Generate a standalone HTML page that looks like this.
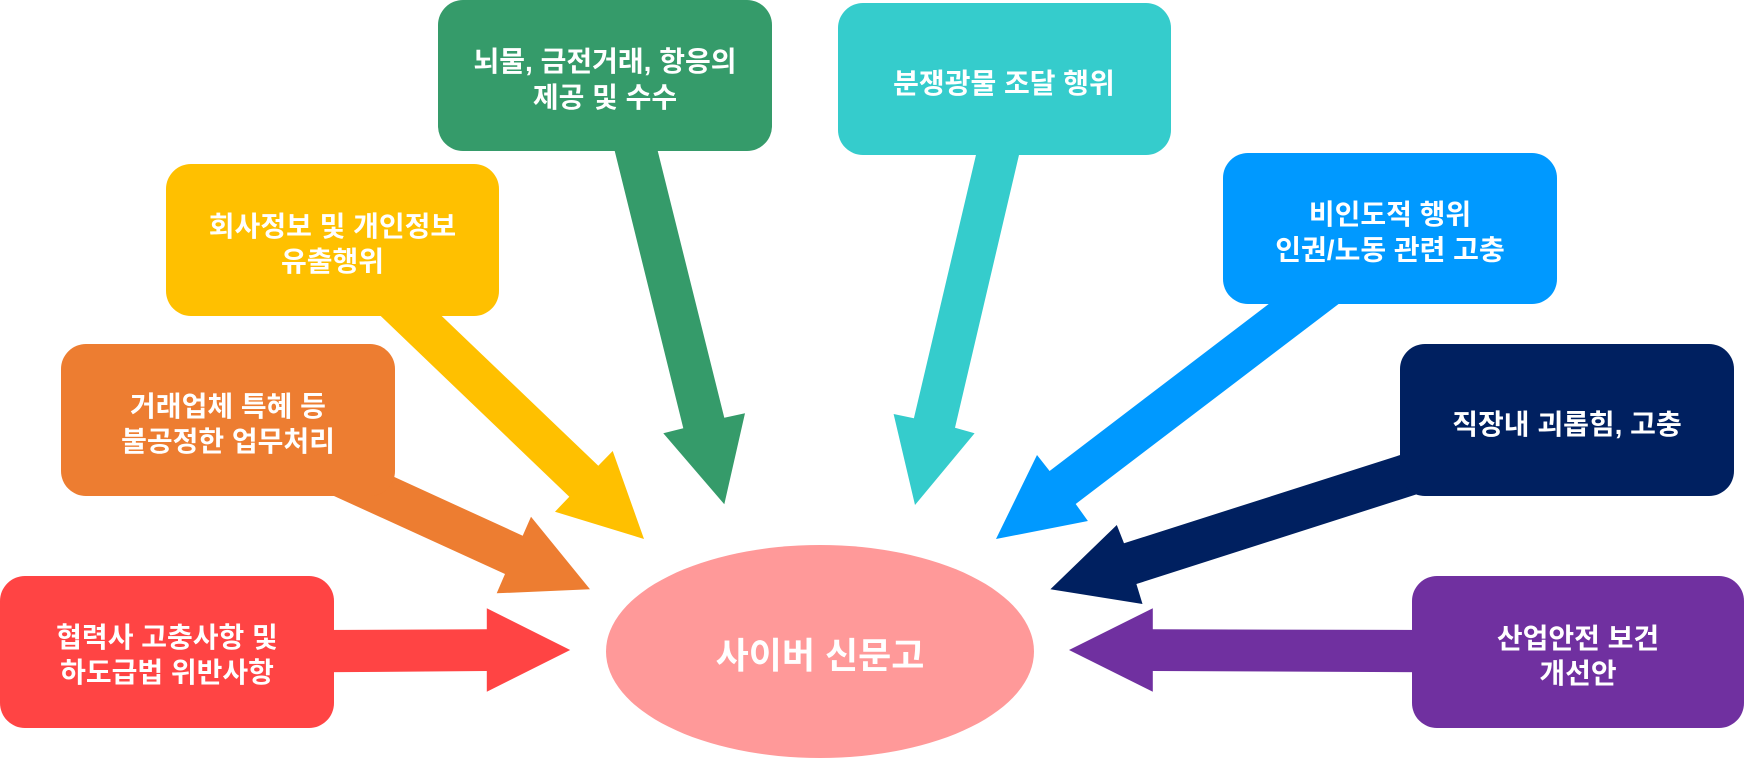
<!DOCTYPE html>
<html>
<head>
<meta charset="utf-8">
<style>
  html, body { margin: 0; padding: 0; background: #ffffff; }
  body { width: 1745px; height: 759px; overflow: hidden; }
  svg { display: block; }
  text { font-family: "Liberation Sans", "Noto Sans CJK KR", sans-serif; font-weight: bold; fill: #ffffff; }
</style>
</head>
<body>
<svg width="1745" height="759" viewBox="0 0 1745 759" xmlns="http://www.w3.org/2000/svg">
  <!-- arrows -->
  <polygon fill="#359b6a" points="612,140 683.3,428.3 663.3,433.3 724.3,504.3 745,413.3 724.3,417.7 655,140"/>
  <polygon fill="#35cccc" points="979.5,140 913.9,418.3 893.6,414 915,505 974.6,433.3 955,427.7 1022.5,140"/>
  <polygon fill="#ffc000" points="364,300 569.3,496.7 555,511.7 644,539 612.7,451 598.3,465.7 425,300"/>
  <polygon fill="#ed7d31" points="320,443 522.7,535.7 531,516.7 590,589.3 496.7,593.3 505,574 320,489.6"/>
  <polygon fill="#0099ff" points="1287,290 1049.6,471 1037,455 996,539 1087.9,521 1075.7,504 1357,290"/>
  <polygon fill="#002060" points="1430,445.5 1124,543.3 1116.8,525 1050.4,589.3 1142.5,604 1136.4,584 1430,490"/>
  <polygon fill="#ff4444" points="320,630 486.8,629.3 486.8,608.3 570.2,650 486.8,691.7 486.8,671 320,672.3"/>
  <polygon fill="#7030a0" points="1430,630 1152.8,629.3 1152.8,608.3 1069,650 1152.8,691.7 1152.8,671 1430,672.3"/>

  <!-- boxes -->
  <rect x="438" y="0" width="334" height="151" rx="25" ry="25" fill="#359b6a"/>
  <rect x="838" y="3" width="333" height="152" rx="25" ry="25" fill="#35cccc"/>
  <rect x="166" y="164" width="333" height="152" rx="25" ry="25" fill="#ffc000"/>
  <rect x="1223" y="153" width="334" height="151" rx="25" ry="25" fill="#0099ff"/>
  <rect x="61" y="344" width="334" height="152" rx="25" ry="25" fill="#ed7d31"/>
  <rect x="1400" y="344" width="334" height="152" rx="25" ry="25" fill="#002060"/>
  <rect x="0" y="576" width="334" height="152" rx="25" ry="25" fill="#ff4444"/>
  <rect x="1412" y="576" width="332" height="152" rx="25" ry="25" fill="#7030a0"/>

  <!-- center ellipse -->
  <ellipse cx="820" cy="651.5" rx="214" ry="106.5" fill="#ff9999"/>

  <!-- labels -->
  <g font-size="28" text-anchor="middle">
    <text x="605" y="71">뇌물, 금전거래, 항응의</text>
    <text x="605" y="107">제공 및 수수</text>

    <text x="1004" y="93">분쟁광물 조달 행위</text>

    <text x="332.5" y="236">회사정보 및 개인정보</text>
    <text x="332.5" y="271">유출행위</text>

    <text x="1390" y="224">비인도적 행위</text>
    <text x="1390" y="259.5">인권/노동 관련 고충</text>

    <text x="228" y="416">거래업체 특혜 등</text>
    <text x="228" y="451">불공정한 업무처리</text>

    <text x="1567" y="434">직장내 괴롭힘, 고충</text>

    <text x="167" y="647">협력사 고충사항 및</text>
    <text x="167" y="682">하도급법 위반사항</text>

    <text x="1578" y="648">산업안전 보건</text>
    <text x="1578" y="683">개선안</text>
  </g>
  <text x="820" y="668" font-size="36" text-anchor="middle">사이버 신문고</text>
</svg>
</body>
</html>
